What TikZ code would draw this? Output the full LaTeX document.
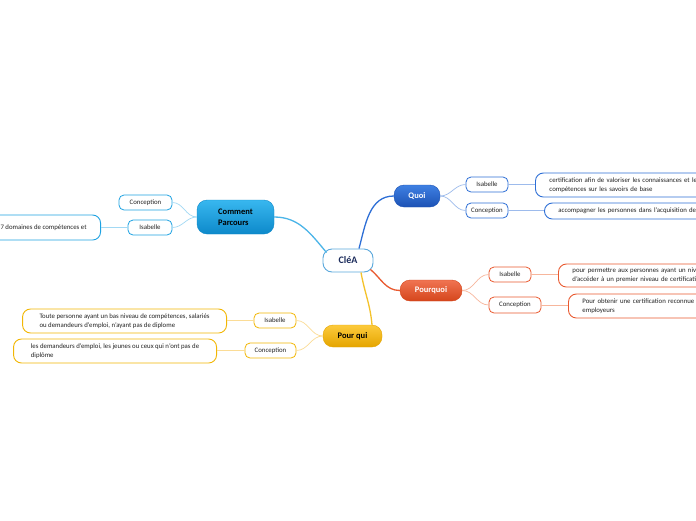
\documentclass[tikz,border=0pt]{standalone}
\usepackage{fontspec}
\setmainfont{Carlito}
\usetikzlibrary{calc}
\definecolor{qblue}{HTML}{2E6FD6}
\definecolor{qblueT}{HTML}{3F80E2}
\definecolor{qblueB}{HTML}{1C52B5}
\definecolor{qblueL}{HTML}{9DBBEC}
\definecolor{porg}{HTML}{E95A30}
\definecolor{porgT}{HTML}{F07452}
\definecolor{porgB}{HTML}{D5461C}
\definecolor{porgL}{HTML}{F7B69C}
\definecolor{ccyan}{HTML}{1EA2E2}
\definecolor{ccyanT}{HTML}{38B7EF}
\definecolor{ccyanB}{HTML}{0D89CA}
\definecolor{ccyanL}{HTML}{A2D9F4}
\definecolor{ygold}{HTML}{F2B705}
\definecolor{ygoldT}{HTML}{FCCA3C}
\definecolor{ygoldB}{HTML}{E5A500}
\definecolor{ygoldL}{HTML}{FBDC96}
\definecolor{cborder}{HTML}{5AA8DC}
\definecolor{ctext}{HTML}{1C2C5C}
\definecolor{dtext}{HTML}{222222}
\tikzset{
  x=1pt,y=-1pt,
  central/.style={draw=cborder,line width=0.9pt,fill=white,rounded corners=9pt,minimum width=50pt,minimum height=23pt,inner sep=0pt,font=\fontsize{10}{12}\selectfont\bfseries,text=ctext},
  topic/.style={rounded corners=10pt,inner sep=0pt,font=\fontsize{8.5}{11}\selectfont\bfseries},
  child/.style={draw=#1,fill=white,line width=0.8pt,rounded corners=5pt,inner sep=0pt,font=\fontsize{6.8}{8}\selectfont,text=dtext},
  leaf/.style={draw=#1,fill=white,line width=0.9pt,rounded corners=8pt,inner xsep=14pt,inner ysep=0pt,align=left,font=\fontsize{6.8}{9}\selectfont,text=dtext},
  mainline/.style={draw=#1,line width=1.3pt},
  subline/.style={draw=#1,line width=0.7pt},
}
\begin{document}
\begin{tikzpicture}
\useasboundingbox (0,0) rectangle (696,520);
\clip (0,0) rectangle (696,520);
\fill[white] (0,0) rectangle (696,520);

% central
\node[central] (c) at (348,260.5) {CléA};

% main topics
\node[topic,top color=qblueT,bottom color=qblueB,draw=qblueB,text=white,minimum width=46pt,minimum height=22pt] (quoi) at (417,196) {Quoi};
\node[topic,top color=porgT,bottom color=porgB,draw=porgB,text=white,minimum width=62pt,minimum height=21pt] (pourquoi) at (431,290.5) {Pourquoi};
\node[topic,top color=ccyanT,bottom color=ccyanB,draw=ccyanB,text=black,minimum width=77pt,minimum height=34pt,align=left] (comment) at (235.5,217) {Comment\\Parcours};
\node[topic,top color=ygoldT,bottom color=ygoldB,draw=ygoldB,text=black,minimum width=59pt,minimum height=22pt] (pourqui) at (352.5,336) {Pour qui};

% main connectors
\draw[mainline=qblue] ($(c.north)+(11,0)$) to[out=75,in=180] (quoi.west);
\draw[mainline=porg] ($(c.south east)+(-3,-3)$) to[out=-40,in=180] (pourquoi.west);
\draw[mainline=ccyan!80] (comment.east) to[out=0,in=130] ($(c.north west)+(4,4)$);
\draw[mainline=ygold!85] ($(c.south)+(13,0)$) to[out=-80,in=95] ($(pourqui.north)+(19.5,0)$);

% children
\node[child=qblue,minimum width=42pt,minimum height=15pt] (qi) at (487,184.5) {Isabelle};
\node[child=qblue,minimum width=42pt,minimum height=15pt] (qc) at (487,210.5) {Conception};
\node[child=porg,minimum width=42pt,minimum height=15pt] (pi) at (510,274.5) {Isabelle};
\node[child=porg,minimum width=52pt,minimum height=16pt] (pc) at (515,305) {Conception};
\node[child=ccyan,minimum width=53pt,minimum height=15pt] (cc) at (145.5,202.5) {Conception};
\node[child=ccyan,minimum width=44pt,minimum height=15pt] (ci) at (150,227.5) {Isabelle};
\node[child=ygold,minimum width=42pt,minimum height=15pt] (ui) at (275,320.5) {Isabelle};
\node[child=ygold,minimum width=51pt,minimum height=15pt] (uc) at (270.5,350.5) {Conception};

% child connectors
\draw[subline=qblueL] (quoi.east) to[out=0,in=180] (qi.west);
\draw[subline=qblueL] (quoi.east) to[out=0,in=180] (qc.west);
\draw[subline=porgL] (pourquoi.east) to[out=0,in=180] (pi.west);
\draw[subline=porgL] (pourquoi.east) to[out=0,in=180] (pc.west);
\draw[subline=ccyanL] (comment.west) to[out=180,in=0] (cc.east);
\draw[subline=ccyanL] (comment.west) to[out=180,in=0] (ci.east);
\draw[subline=ygoldL] (pourqui.west) to[out=180,in=0] (ui.east);
\draw[subline=ygoldL] (pourqui.west) to[out=180,in=0] (uc.east);

% leaves
\node[leaf=qblue,anchor=west,minimum height=24pt,text width=200pt] (ql1) at (535,185) {certification afin de valoriser les connaissances et les\\compétences sur les savoirs de base};
\node[leaf=qblue,anchor=west,minimum height=16pt,text width=200pt] (ql2) at (544,211) {accompagner les personnes dans l'acquisition des};
\node[leaf=porg,anchor=west,minimum height=23pt,text width=200pt] (pl1) at (558,275.5) {pour permettre aux personnes ayant un niveau\\d'accéder à un premier niveau de certification};
\node[leaf=porg,anchor=west,minimum height=24pt,text width=200pt] (pl2) at (568,306) {Pour obtenir une certification reconnue par les\\employeurs};
\node[leaf=ccyan,anchor=east,minimum height=25pt] (cl) at (101,227.5) {7 domaines de compétences et};
\node[leaf=ygold,anchor=east,minimum height=24pt,minimum width=204pt,inner xsep=4pt] (ul1) at (227,321) {Toute personne ayant un bas niveau de compétences, salariés\\ou demandeurs d'emploi, n'ayant pas de diplome};
\node[leaf=ygold,anchor=east,minimum height=24pt,minimum width=203pt,inner xsep=4pt] (ul2) at (217,351) {les demandeurs d'emploi, les jeunes ou ceux qui n'ont pas de\\diplôme};

% leaf connectors
\draw[subline=qblueL] (qi.east) -- (ql1.west |- qi.east);
\draw[subline=qblueL] (qc.east) -- (ql2.west |- qc.east);
\draw[subline=porgL] (pi.east) -- (pl1.west |- pi.east);
\draw[subline=porgL] (pc.east) -- (pl2.west |- pc.east);
\draw[subline=ccyanL] (ci.west) -- (cl.east |- ci.west);
\draw[subline=ygoldL] (ui.west) -- (ul1.east |- ui.west);
\draw[subline=ygoldL] (uc.west) -- (ul2.east |- uc.west);
\end{tikzpicture}
\end{document}
